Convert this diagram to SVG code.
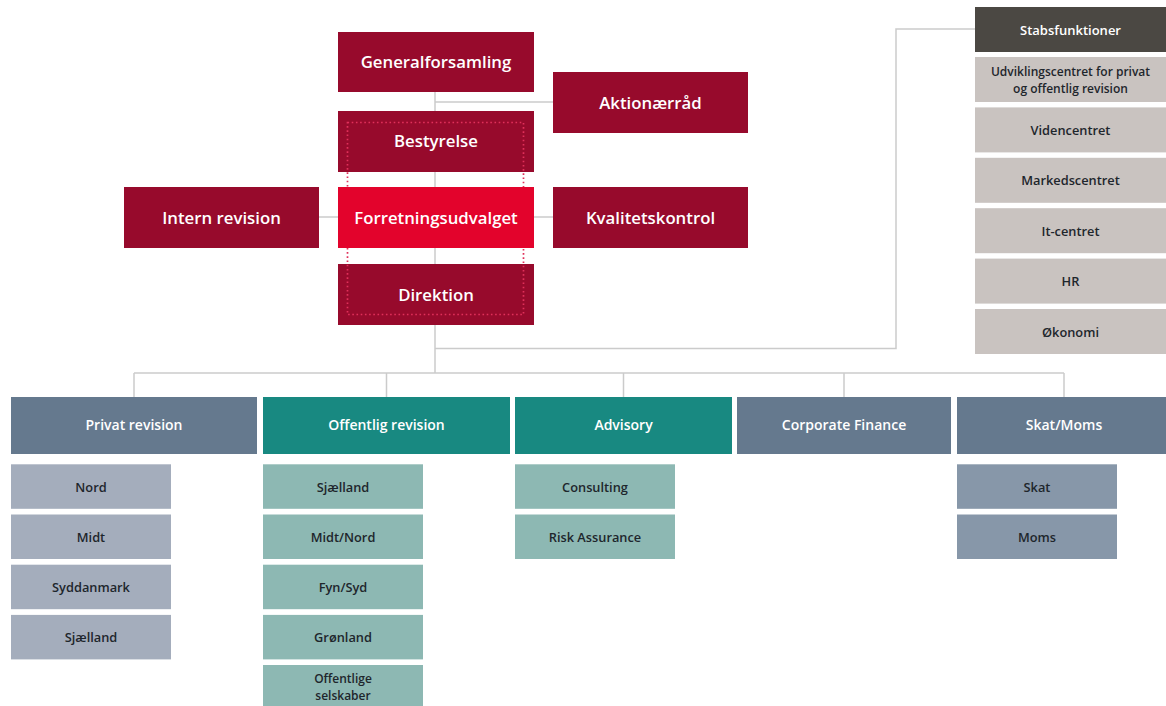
<svg xmlns="http://www.w3.org/2000/svg" width="1166" height="706" viewBox="0 0 1166 706">
<style>
.bg{fill:#ffffff}
.conn{fill:none;stroke:#cbcbcb;stroke-width:1.5}
.dred{fill:#970a2c}
.bred{fill:#e3032c}
.t1{font-family:"Open Sans","Liberation Sans",sans-serif;font-weight:600;font-size:16.8px;fill:#ffffff;text-anchor:middle;dominant-baseline:central}
.t2{font-family:"Open Sans","Liberation Sans",sans-serif;font-weight:600;font-size:14px;fill:#ffffff;text-anchor:middle;dominant-baseline:central}
.t3{font-family:"Open Sans","Liberation Sans",sans-serif;font-weight:600;font-size:12.8px;fill:#1e262c;text-anchor:middle;dominant-baseline:central}
.t4{font-family:"Open Sans","Liberation Sans",sans-serif;font-weight:600;font-size:12px;fill:#1e262c;text-anchor:middle;dominant-baseline:central}
.slate{fill:#65798e}
.teal{fill:#188981}
.psub{fill:#a4adbc}
.tsub{fill:#8db8b3}
.ssub{fill:#8797a9}
.stabh{fill:#4b4843}
.stab{fill:#c9c3c0}
.dots{fill:none;stroke:#e0305a;stroke-width:1.7;stroke-dasharray:1.6 2.6}
</style>
<rect class="bg" x="0" y="0" width="1166" height="706"/>
<g id="connectors">
<path class="conn" d="M435 92 V373"/>
<path class="conn" d="M435 102 H553"/>
<path class="conn" d="M319 217 H553"/>
<path class="conn" d="M435 348.5 H896 V29 H975"/>
<path class="conn" d="M134 373 H1064"/>
<path class="conn" d="M134 373 V397 M386.5 373 V397 M623.5 373 V397 M844 373 V397 M1064 373 V397"/>
</g>
<g id="generalforsamling"><rect class="dred" x="338" y="32" width="196" height="60"/><text class="t1" x="436" y="61.5">Generalforsamling</text></g>
<g id="aktionaerraad"><rect class="dred" x="553" y="72" width="195" height="61"/><text class="t1" x="650.5" y="102">Aktionærråd</text></g>
<g id="bestyrelse"><rect class="dred" x="338" y="111" width="196" height="61"/><text class="t1" x="436" y="140.5">Bestyrelse</text></g>
<g id="intern-revision"><rect class="dred" x="124" y="187" width="195" height="61"/><text class="t1" x="221.5" y="217">Intern revision</text></g>
<g id="kvalitetskontrol"><rect class="dred" x="553" y="187" width="195" height="61"/><text class="t1" x="650.5" y="217">Kvalitetskontrol</text></g>
<g id="direktion"><rect class="dred" x="338" y="264" width="196" height="61"/><text class="t1" x="436" y="294">Direktion</text></g>
<g id="dotted-frame"><rect class="dots" x="347.5" y="122.5" width="176" height="192"/></g>
<g id="forretningsudvalget"><rect class="bred" x="338" y="187" width="196" height="61"/><text class="t1" x="436" y="217">Forretningsudvalget</text></g>

<g id="stabsfunktioner"><rect class="stabh" x="975" y="7" width="191" height="45"/><text class="t2" x="1070.5" y="29.5" style="font-size:13px">Stabsfunktioner</text></g>
<g id="udviklingscentret"><rect class="stab" x="975" y="57" width="191" height="45"/><text class="t4" x="1070.5" y="79.5"><tspan x="1070.5" dy="-8.2">Udviklingscentret for privat</tspan><tspan x="1070.5" dy="16.4">og offentlig revision</tspan></text></g>
<g id="videncentret"><rect class="stab" x="975" y="107.4" width="191" height="45"/><text class="t3" x="1070.5" y="130">Videncentret</text></g>
<g id="markedscentret"><rect class="stab" x="975" y="157.8" width="191" height="45"/><text class="t3" x="1070.5" y="180.3">Markedscentret</text></g>
<g id="it-centret"><rect class="stab" x="975" y="208.2" width="191" height="45"/><text class="t3" x="1070.5" y="230.7">It-centret</text></g>
<g id="hr"><rect class="stab" x="975" y="258.6" width="191" height="45"/><text class="t3" x="1070.5" y="281.1">HR</text></g>
<g id="oekonomi"><rect class="stab" x="975" y="309" width="191" height="45"/><text class="t3" x="1070.5" y="331.5">Økonomi</text></g>

<g id="privat-revision"><rect class="slate" x="11" y="397" width="246" height="57"/><text class="t2" x="134" y="424.5">Privat revision</text></g>
<g id="offentlig-revision"><rect class="teal" x="263" y="397" width="247" height="57"/><text class="t2" x="386.5" y="424.5">Offentlig revision</text></g>
<g id="advisory"><rect class="teal" x="515" y="397" width="217" height="57"/><text class="t2" x="623.5" y="424.5">Advisory</text></g>
<g id="corporate-finance"><rect class="slate" x="737" y="397" width="214" height="57"/><text class="t2" x="844" y="424.5">Corporate Finance</text></g>
<g id="skat-moms"><rect class="slate" x="957" y="397" width="214" height="57"/><text class="t2" x="1064" y="424.5">Skat/Moms</text></g>

<g id="p-nord"><rect class="psub" x="11" y="464.3" width="160" height="44.5"/><text class="t3" x="91" y="486.5">Nord</text></g>
<g id="p-midt"><rect class="psub" x="11" y="514.5" width="160" height="44.5"/><text class="t3" x="91" y="536.7">Midt</text></g>
<g id="p-syddanmark"><rect class="psub" x="11" y="564.7" width="160" height="44.5"/><text class="t3" x="91" y="586.9">Syddanmark</text></g>
<g id="p-sjaelland"><rect class="psub" x="11" y="614.9" width="160" height="44.5"/><text class="t3" x="91" y="637.1">Sjælland</text></g>

<g id="o-sjaelland"><rect class="tsub" x="263" y="464.3" width="160" height="44.5"/><text class="t3" x="343" y="486.5">Sjælland</text></g>
<g id="o-midt-nord"><rect class="tsub" x="263" y="514.5" width="160" height="44.5"/><text class="t3" x="343" y="536.7">Midt/Nord</text></g>
<g id="o-fyn-syd"><rect class="tsub" x="263" y="564.7" width="160" height="44.5"/><text class="t3" x="343" y="586.9">Fyn/Syd</text></g>
<g id="o-groenland"><rect class="tsub" x="263" y="614.9" width="160" height="44.5"/><text class="t3" x="343" y="637.1">Grønland</text></g>
<g id="o-selskaber"><rect class="tsub" x="263" y="665" width="160" height="45"/><text class="t4" x="343" y="686.5"><tspan x="343" dy="-8.2">Offentlige</tspan><tspan x="343" dy="16.4">selskaber</tspan></text></g>

<g id="a-consulting"><rect class="tsub" x="515" y="464.3" width="160" height="44.5"/><text class="t3" x="595" y="486.5">Consulting</text></g>
<g id="a-risk"><rect class="tsub" x="515" y="514.5" width="160" height="44.5"/><text class="t3" x="595" y="536.7">Risk Assurance</text></g>

<g id="s-skat"><rect class="ssub" x="957" y="464.3" width="160" height="44.5"/><text class="t3" x="1037" y="486.5">Skat</text></g>
<g id="s-moms"><rect class="ssub" x="957" y="514.5" width="160" height="44.5"/><text class="t3" x="1037" y="536.7">Moms</text></g>
</svg>
